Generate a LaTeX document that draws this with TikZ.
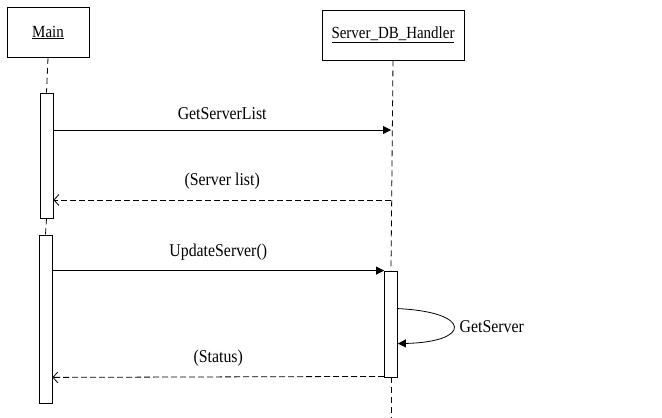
\documentclass[tikz,border=0pt]{standalone}
\usepackage{fontspec}
\setmainfont{Liberation Serif}
\newfontfamily\diagfont[FakeStretch=0.88]{Liberation Serif}
\usetikzlibrary{arrows.meta, positioning, calc}
\tikzset{
  % Sequence diagram styles
  object/.style={rectangle, draw=black, text centered, minimum height=50pt, font=\diagfont\fontsize{17}{20}\selectfont},
  activation/.style={rectangle, draw=black, fill=white, minimum width=13pt, inner sep=0pt},
  lifeline/.style={dashed, dash pattern=on 6pt off 4pt},
  call/.style={-{Triangle[length=8pt, width=8pt]}},
  reply/.style={dashed, dash pattern=on 6pt off 3pt, -{Straight Barb[length=5pt, width=11pt]}},
  msg/.style={font=\diagfont\fontsize{18}{21}\selectfont},
}
\begin{document}
\begin{tikzpicture}[x=1pt, y=-1pt, line width=0.8pt]
    \useasboundingbox (0,0) rectangle (662,418);

    % Objects
    \node[object, minimum width=82pt] (main) at (48,32.5) {\underline{Main}};
    \node[object, minimum width=142pt] (srv) at (393,35) {\underline{Server\_DB\_Handler}};

    % Activations
    \node[activation, minimum height=125pt] (act1) at (46.5,155.5) {};
    \node[activation, minimum height=168pt] (act2) at (45.5,319) {};
    \node[activation, minimum height=106pt] (srvact) at (391,324) {};

    % Lifeline points
    \coordinate (getlist) at (391,130);
    \coordinate (retlist) at (391,200);
    \coordinate (srvend) at (391,418);

    % Lifelines
    \draw[lifeline] (main.south) -- (act1.north);
    \draw[lifeline] (act1.south) -- (act2.north);
    \draw[lifeline] (srv.south) -- (srvact.north);
    \draw[lifeline] (srvact.south) -- (srvend);

    % Messages
    \draw[call] (act1.east |- getlist) -- node[msg, midway, above=7pt] (m1) {GetServerList} (getlist);
    \draw[reply] (retlist) -- node[msg, midway, above=7pt] (m2) {(Server list)} (act1.east |- retlist);
    \draw[call] (act2.east |- srvact.north) -- node[msg, midway, above=7pt] (m3) {UpdateServer()} (srvact.north west);
    \draw[call] ($(srvact.north east)+(0,38)$) .. controls (472,312) and (472,342) .. ($(srvact.north east)+(0,73)$);
    \node[msg, anchor=west] (m4) at (456,327) {GetServer};
    \draw[reply] ($(srvact.south west)+(0,-1)$) -- node[msg, midway, above=7pt] (m5) {(Status)} (act2.east |- srvact.south);
  \end{tikzpicture}
\end{document}
